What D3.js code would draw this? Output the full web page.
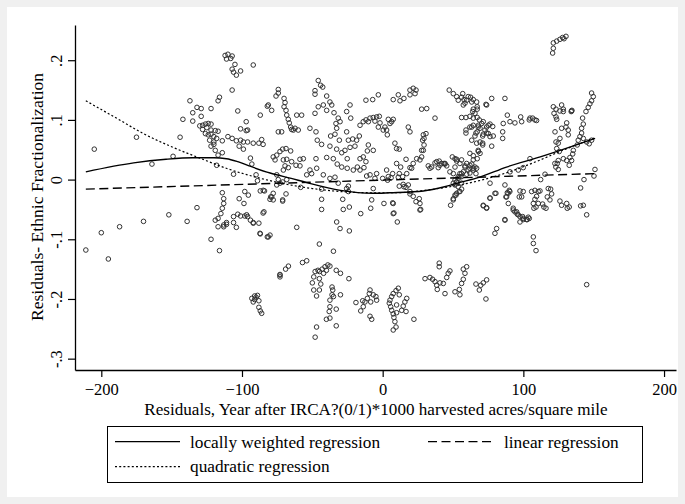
<!DOCTYPE html>
<html><head><meta charset="utf-8">
<script src="https://cdn.jsdelivr.net/npm/d3@7/dist/d3.min.js"></script>
<style>body{margin:0;background:#f0f0f0}svg{display:block}</style>
</head><body><svg id="c" width="685" height="504"></svg>
<script>
const xTicks=[-200,-100,0,100,200];
const yTicks=[-0.3,-0.2,-0.1,0,0.1,0.2];
const yTickLabels=["-.3","-.2","-.1","0",".1",".2"];
const xTitle="Residuals, Year after IRCA?(0/1)*1000 harvested acres/square mile";
const yTitle="Residuals- Ethnic Fractionalization";
const legendLabels=["locally weighted regression","linear regression","quadratic regression"];
const points=[
[-211,-0.118],[-195,-0.133],[-205,0.051],[-200,-0.089],[-187,-0.079],[-175,0.071],[-170,-0.070],[-164,0.026],[-152,-0.059],[-149,0.039],[-144,0.071],[-142,0.101],[-139,-0.070],[-137,0.132],[-132,-0.047],
[-112,0.208],[-110,0.210],[-107,0.207],[-111,0.202],[-108,0.203],[-105,0.193],[-107,0.185],[-106,0.180],[-101,0.182],[-104,0.175],[-92,0.192],[-107,0.150],[-116,0.138],[-117,0.132],[-132,0.121],[-129,0.119],[-135,0.112],[-129,0.106],[-135,0.098],[-122,0.119],[-103,0.115],[-97,0.097],[-101,0.085],[-96,0.083],[-87,0.108],[-82,0.123],
[-130,0.090],[-128,0.091],[-126,0.093],[-124,0.094],[-122,0.093],[-128,0.084],[-125,0.087],[-122,0.083],[-119,0.082],[-117,0.081],[-126,0.077],[-124,0.075],[-122,0.076],[-120,0.072],[-123,0.066],[-120,0.063],[-122,0.056],[-120,0.059],[-118,0.069],[-119,0.049],[-117,0.041],[-118,0.024],
[-114,0.065],[-110,0.072],[-107,0.069],[-104,0.065],[-101,0.066],[-99,0.063],[-96,0.063],[-92,0.061],[-88,0.061],[-85,0.059],[-86,0.067],[-102,0.056],[-99,0.051],[-94,0.036],[-93,0.026],[-90,0.008],[-89,-0.002],[-87,-0.019],[-106,0.009],[-114,0.045],[-97,0.082],
[-114,-0.022],[-113,-0.032],[-113,-0.040],[-114,-0.048],[-115,-0.057],[-117,-0.065],[-119,-0.068],[-117,-0.079],[-113,-0.076],[-111,-0.072],[-122,-0.100],[-116,-0.119],
[-106,-0.062],[-103,-0.058],[-101,-0.061],[-98,-0.061],[-96,-0.062],[-94,-0.068],[-92,-0.072],[-88,-0.073],[-106,-0.072],[-104,-0.080],[-87,-0.091],[-82,-0.096],[-85,-0.056],[-102,-0.032],[-98,-0.020],[-84,-0.019],[-113,-0.079],[-111,-0.075],
[-73,-0.160],[-69,-0.150],[-67,-0.145],
[-93,-0.199],[-91,-0.195],[-89,-0.194],[-92,-0.205],[-90,-0.197],[-88,-0.214],[-87,-0.220],[-86,-0.224],[-91,-0.201],[-88,-0.203],
[-45,-0.108],[-35,-0.120],[-57,-0.139],[-54,-0.136],[-73,-0.159],[-73,-0.163],
[-48,-0.154],[-46,-0.152],[-43,-0.150],[-41,-0.146],[-39,-0.143],[-37.5,-0.145],[-40,-0.152],[-42,-0.157],[-45,-0.154],[-49,-0.163],[-50,-0.173],[-45,-0.166],[-44,-0.175],[-45,-0.185],[-49,-0.185],[-47,-0.195],[-37.5,-0.202],[-36,-0.193],[-35,-0.196],[-30,-0.193],[-33,-0.152],[-30,-0.157],[-24,-0.166],[-36,-0.180],[-35.5,-0.185],[-37.5,-0.213],[-38,-0.221],[-33,-0.217],[-37.5,-0.232],[-40,-0.234],[-33,-0.245],[-47,-0.247],[-48,-0.264],
[-19,-0.206],[-15.6,-0.220],[-13.8,-0.213],[-12.6,-0.205],[-10.9,-0.199],[-9.5,-0.191],[-9,-0.185],[-6.7,-0.193],[-4.8,-0.196],[-4.3,-0.202],[-8.5,-0.205],[-9,-0.229],[-7.8,-0.234],[-14.2,-0.203],
[11.1,-0.182],[9.5,-0.186],[7.5,-0.191],[6.4,-0.196],[5.2,-0.202],[4.7,-0.207],[5.7,-0.213],[6.4,-0.219],[7.5,-0.225],[8,-0.231],[8.7,-0.238],[9.5,-0.247],[7.5,-0.252],[9.9,-0.223],[13.5,-0.219],[14.6,-0.212],[15.8,-0.205],[17.1,-0.199],[16.6,-0.221],[22.2,-0.234],[11.8,-0.193],[9.9,-0.210],
[40.2,-0.140],[40.2,-0.146],[30.1,-0.166],[33.6,-0.164],[35.5,-0.167],[37.2,-0.171],[38.4,-0.177],[38.8,-0.184],[40.7,-0.173],[43.1,-0.174],[45.5,-0.164],[46.6,-0.157],[47.8,-0.153],[44.3,-0.191],[51.4,-0.188],[54.5,-0.184],[54.9,-0.193],[56.1,-0.174],[57.3,-0.167],[58.5,-0.157],[59.7,-0.146],[57.3,-0.150],[66.3,-0.175],[68.7,-0.185],[69.7,-0.177],[71.5,-0.173],[73.9,-0.168],[73.4,-0.200],
[-45.8,0.166],[-44.1,0.158],[-42.6,0.155],[-48.1,0.149],[-48.1,0.143],[-39.8,0.140],[-37.5,0.130],[-36.2,0.125],[-42.2,0.125],[-45.8,0.122],[-48.1,0.111],[-39.8,0.116],[-34.6,0.112],[-31.6,0.103],[-30.3,0.097],[-33.2,0.094],[-32.7,0.086],[-33.9,0.076],[-37,0.073],[-25.6,0.080],[-24.4,0.066],[-25.6,0.114],[-23.2,0.125],[-22.7,0.103],[-51.7,0.086],[-47.4,0.080],[-46.5,0.066],[-43.4,0.059],[-37.5,0.056],[-32.7,0.051],[-29.1,0.045],[-26.8,0.049],[-21.3,0.068],[-18.5,0.066],[-30.8,0.066],[-23.2,0.054],[-19.7,0.056],[-16.6,0.073],[-16.1,0.091],[-13.8,0.097],[-11.9,0.100],[-9,0.103],[-6.7,0.104],[-4.3,0.105],[-2.4,0.106],[-10.2,0.097],[-5.5,0.098],[-1.9,0.095],[-3.1,0.088],[0.4,0.083],[1.6,0.088],[4,0.101],[5.2,0.094],[3.3,0.075],[8.7,0.061],[9.9,0.052],[-11.9,0.133],[-7.1,0.134],[-3.1,0.142],[7.5,0.134],
[-10.2,0.058],[-6.7,0.049],[-10.9,0.048],[-13.8,0.038],[-16.1,0.035],[-11.9,0.030],[-18,0.021],[-20.9,0.016],[-25.2,0.019],[-29.1,0.021],[-32.3,0.026],[-25.2,0.035],[-39.8,0.037],[-35.1,0.035],[-47.4,0.035],[-56.4,0.035],[-58.8,0.034],[-46.9,0.019],[-51.7,0.016],[-50.5,0.010],[-42.2,0.008],[-37.5,0.002],[-33.9,0.004],[-31.6,-0.006],[-24.4,-0.011],[-24.4,-0.020],[-58.3,-0.013],[-43.4,-0.033],[-43.4,-0.050],[-28.4,-0.033],[-23.7,-0.046],[-28,-0.050],[-15.6,-0.057],[-32.7,-0.071],[-30.3,-0.082],[-23.7,-0.086],[-61.1,-0.080],
[-74.2,0.151],[-74.2,0.145],[-75.8,0.140],[-70.1,0.136],[-69.4,0.129],[-70.1,0.122],[-68.7,0.116],[-68.2,0.108],[-67.1,0.101],[-66.4,0.095],[-65.4,0.088],[-64.7,0.084],[-63.5,0.083],[-62.3,0.086],[-60,0.083],[-61.1,0.108],[-57.6,0.108],[-81.3,0.125],[-78.9,0.116],[-74.2,0.080],[-71.8,0.080],
[-77.8,0.038],[-75.3,0.041],[-73,0.047],[-71.1,0.051],[-68.7,0.052],[-65.4,0.048],[-76.5,0.033],[-70.6,0.033],[-68.2,0.034],[-64.7,0.030],[-61.6,0.024],[-58.8,0.023],[-69.4,0.023],[-67.1,0.020],[-70.6,0.016],[-75.3,0.008],[-74.2,0.000],[-73,-0.006],[-71.1,-0.004],[-68.2,0.000],[-75.3,-0.009],[-84.9,-0.018],[-77.8,-0.023],[-78.9,-0.029],[-80.1,-0.033],[-71.1,-0.036],[-68.7,-0.024],[-84.4,-0.054],[-80.1,-0.093],[-43.4,-0.016],[-54,0.008],
[2.8,0.083],[6.4,0.097],[7.5,0.101],[11.8,0.051],[12.3,0.132],[11.1,0.142],[15.1,0.136],[19.4,0.150],[21.7,0.153],[23.7,0.150],[23,0.144],[27.7,0.118],[31.3,0.119],[37.2,0.103],[18.2,0.088],[19.4,0.080],[28.4,0.066],[29.4,0.058],[28.9,0.049],[27.7,0.038],[26.5,0.033],[24.2,0.035],[21.7,0.027],[20.6,0.019],[17.1,0.010],[19.4,0.020],[16.6,0.034],[9.9,0.027],[12.8,0.021],[2.8,0.016],[4,0.005],[7.1,0.010],[11.1,0.004],[-5.5,0.002],[-4.3,0.010],[-9,0.008],[-11.4,0.006],[-16.1,0.016],[-13.3,0.020],[-6.7,-0.015],[-7.8,-0.034],[-8.5,-0.048],[0.9,-0.040],[7.1,-0.039],[8,-0.056],[10.4,-0.071],[16.6,-0.013],[19.4,-0.020],[21.7,-0.028],[23.7,-0.037],[26.5,-0.040],[27,-0.050],[11.8,-0.011],[14.6,-0.008],[0,0.002],[3.5,-0.001],[6,0.003],[-25.6,-0.015],
[47.3,0.150],[50.2,0.144],[52.6,0.139],[56.9,0.144],[57.8,0.134],[60.8,0.139],[63.3,0.130],[64.4,0.134],[66.8,0.130],[67.2,0.122],[64,0.114],[65.6,0.111],[62,0.106],[56.1,0.104],[59.2,0.083],[62,0.088],[64.4,0.091],[67.2,0.080],[65.6,0.073],[63.3,0.066],[66.8,0.061],[67.9,0.049],[62,0.044],[64.4,0.033],[67.2,0.035],[69.2,0.044],[52.6,0.034],[54.9,0.027],[51.4,0.021],[50.2,0.010],[58.5,0.023],[62,0.019],[64.4,0.016],[66.3,0.010],[54.9,0.005],[52.6,-0.004],[50.2,-0.006],[53.7,-0.012],[54.9,-0.020],[51.4,-0.026],[50.2,-0.034],[48.3,-0.043],[37.2,0.028],[40.2,0.031],[43.6,0.027],[45.5,0.023],[39.5,0.020],[33.6,0.019],
[-95.5,-0.026],[-98.6,-0.040],[-96.7,-0.059],[-92,-0.073],[-87.2,-0.090],[-81.3,-0.096],[-79.6,-0.029],[-77.8,-0.034],[-71.1,-0.034],
[19.4,0.142],[28.9,0.075],[30.8,0.077],[29.4,0.069],[27.7,0.049],[32.4,0.023],[34.8,0.021],[38.4,0.030],[41.9,0.027],[44.3,0.026],[11.8,0.010],[14.2,0.005],[18.2,-0.009],[15.1,-0.012],[19.4,-0.024],[26,-0.032],[26.5,-0.051],[7.5,-0.040],[7.5,-0.057],[58.5,0.128],[73.9,0.125],[77.5,0.136],[86.9,0.136],[67.2,0.118],[67.9,0.088],[70.4,0.094],[72.7,0.083],[75.1,0.091],[73.9,0.078],[76.3,0.072],[71.5,0.076],[69.2,0.063],[71.1,0.058],[85.3,0.080],[85.3,0.069],[85.7,0.094],[88.6,0.108],[90.5,0.097],[94,0.095],[98.1,0.105],[98.8,0.097],[56.1,0.033],[59.7,0.027],[56.1,0.010],[53.7,0.005],[51.4,-0.001],[56.1,-0.006],[52.6,-0.023],[50.2,-0.032],[66.8,0.019],[76.3,-0.006],[80.5,-0.023],[76.3,-0.031],[71.5,-0.044],[73.9,-0.047],[86.9,-0.009],[88.6,-0.022],[90,-0.018],[88.1,-0.029],[89.3,-0.040],[92.8,-0.048],[95.2,-0.054],[96.4,-0.059],[99.5,-0.062],[102.3,-0.067],[86.9,-0.067],[81,-0.082],[79.8,-0.090],[97.1,-0.029],[90.5,0.013],[96.4,0.016],[99.9,0.020],
[120.8,0.212],[121.3,0.220],[121.3,0.229],[123.7,0.232],[126,0.235],[127.9,0.238],[130.3,0.240],[128.9,0.236],
[53.7,0.133],[56.1,0.138],[59.7,0.133],[62.5,0.138],[57.3,0.125],[64.4,0.118],[73.4,0.126],
[59.2,0.104],[64.4,0.103],[67.2,0.104],[68.7,0.100],[71.5,0.097],[73.9,0.088],[76.3,0.093],[78.2,0.089],[75.1,0.077],[78.6,0.073],[71.1,0.073],[66.3,0.078],[59.2,0.078],[63.3,0.088],[69.2,0.086],[68,0.091],[77.5,0.056],[104.2,0.100],[106.6,0.103],[109.4,0.099],[71.1,0.061],[68,0.047],[64.4,0.040],[63.3,0.026],
[49.5,0.038],[51.4,0.035],[52.6,0.031],[58.5,0.021],[62,0.024],[60.8,0.016],[57.3,0.013],[59.7,0.009],[62,0.011],[64.4,0.019],[65.6,0.021],[54.9,0.010],[53.7,0.002],[52.6,-0.004],[51.4,-0.009],[56.1,0.005],[44.3,0.027],[40.7,0.024],[47.8,0.013],[56.1,-0.016],[54.4,-0.020],[52.1,-0.026],
[71.5,-0.043],[73.9,-0.048],[76.3,-0.031],[79.8,-0.023],[87.6,-0.029],[89.2,-0.023],[90.4,-0.020],[92.8,-0.051],[94,-0.054],[95.7,-0.058],[97.6,-0.071],[99.9,-0.067],[102.7,-0.067],[104.2,-0.065],[86.9,-0.068],
[148.5,0.145],[149.7,0.139],[148.5,0.132],[147.3,0.127],[146.1,0.121],[144.5,0.114],[142.1,0.103],[142.6,0.093],[141.4,0.086],[141.4,0.078],[140.2,0.072],[139,0.066],[142.6,0.069],[145,0.063],[146.8,0.060],[148.5,0.066],[138.3,0.058],[135.5,0.049],[135.1,0.043],[133.1,0.037],[134.3,0.032],[132.6,0.024],[130.8,0.032],[128.4,0.035],[124.8,0.032],[124.1,0.027],[123.1,0.021],[124.8,0.017],[122.4,0.027],
[121.3,0.122],[123.2,0.118],[121.8,0.111],[123.2,0.105],[123.7,0.101],[126,0.115],[127.2,0.125],[128.4,0.118],[128.4,0.114],[134.3,0.115],[134.5,0.116],[134,0.114],
[130.8,0.095],[130.3,0.088],[131.9,0.083],[131.9,0.075],[122.5,0.080],[127.2,0.086],[123.2,0.063],[124.8,0.061],[126,0.069],[123.7,0.052],[125.5,0.047],
[104.7,0.035],[104.7,0.103],[108.2,0.100],[115.4,0.009],[112.3,0.000],[150.9,0.017],[150.2,0.006],[143.1,0.000],[140.7,-0.014],[145,-0.059],[142.6,-0.043],[140.7,-0.044],
[97.6,-0.019],[99.9,-0.020],[98.8,-0.029],[105.9,-0.020],[108.2,-0.018],[110.6,-0.020],[111.8,-0.019],[109.4,-0.028],[108.2,-0.033],[107.1,-0.040],[109,-0.046],[107.5,-0.048],[110.6,-0.040],[113.7,-0.041],[114.6,-0.046],[116.1,-0.048],[117.7,-0.015],[119.4,-0.016],[120.1,-0.024],[118.9,-0.034],[117,-0.029],[126,-0.036],[127.2,-0.043],[130.8,-0.040],[131.2,-0.048],[132.6,-0.046],
[97.6,-0.062],[99.9,-0.065],[103.5,-0.063],[107.1,-0.096],[107.1,-0.107],[109,-0.119],[145,-0.176]
];
const lowessFit=[[-211,0.013],[-177,0.028],[-154,0.034],[-135,0.0365],[-120,0.0365],[-111,0.035],[-103,0.030],[-95,0.023],[-80,0.011],[-65,0.002],[-54,-0.005],[-30,-0.018],[-7,-0.023],[5,-0.022],[29,-0.019],[44,-0.012],[53,-0.006],[69,0.004],[88,0.021],[112,0.038],[135,0.056],[151,0.069]];
const linearFit=[[-211,-0.016],[151,0.010]];
const quadFit=[[-211,0.132],[-190,0.104],[-170,0.077],[-150,0.055],[-130,0.036],[-110,0.018],[-90,0.004],[-70,-0.007],[-50,-0.015],[-30,-0.020],[-10,-0.022],[10,-0.022],[30,-0.018],[50,-0.011],[70,-0.001],[90,0.013],[110,0.031],[130,0.051],[151,0.070]];

const FONT='"Liberation Serif","Times New Roman",serif';
const svg=d3.select("#c");
svg.append("rect").attr("x",7).attr("y",7).attr("width",671).attr("height",490).attr("fill","#fff");

const x=d3.scaleLinear().domain([-218.7,208.5]).range([75,676]);
const y=d3.scaleLinear().domain([-0.319,0.259]).range([370,25]);

// points
svg.append("g").selectAll("circle").data(points).join("circle")
  .attr("cx",d=>x(d[0])).attr("cy",d=>y(d[1])).attr("r",2.3)
  .attr("fill","none").attr("stroke","#333").attr("stroke-width",1);

const line=d3.line().x(d=>x(d[0])).y(d=>y(d[1]));
const smooth=d3.line().x(d=>x(d[0])).y(d=>y(d[1])).curve(d3.curveMonotoneX);
svg.append("path").attr("d",smooth(lowessFit)).attr("fill","none").attr("stroke","#000").attr("stroke-width",1.4);
svg.append("path").attr("d",line(linearFit)).attr("fill","none").attr("stroke","#000").attr("stroke-width",1.4).attr("stroke-dasharray","9,4.5");
svg.append("path").attr("d",smooth(quadFit)).attr("fill","none").attr("stroke","#000").attr("stroke-width",1.2).attr("stroke-dasharray","2,2.2");

// axes
const gx=svg.append("g").attr("transform","translate(0,370)")
  .call(d3.axisBottom(x).tickValues(xTicks).tickSize(7).tickSizeOuter(0).tickFormat(d3.format("d")));
gx.selectAll("text").attr("y",25).attr("dy",0).attr("font-family",FONT).attr("font-size",16.5).attr("fill","#000");
const gy=svg.append("g").attr("transform","translate(75,0)")
  .call(d3.axisLeft(y).tickValues(yTicks).tickSize(7).tickSizeOuter(0).tickFormat((d,i)=>yTickLabels[i]));
gy.selectAll("text").attr("x",0).attr("dy",0).attr("text-anchor","middle")
  .attr("transform","translate(-13,0) rotate(-90)").attr("font-family",FONT).attr("font-size",16.5).attr("fill","#000");
svg.selectAll(".domain").attr("stroke","#000").attr("stroke-width",1.3);
svg.selectAll(".tick line").attr("stroke","#000").attr("stroke-width",1.2);

svg.append("text").attr("x",376).attr("y",414.5).attr("text-anchor","middle")
  .attr("font-family",FONT).attr("font-size",17.1).text(xTitle);
svg.append("text").attr("transform","translate(43,197) rotate(-90)").attr("text-anchor","middle")
  .attr("font-family",FONT).attr("font-size",17.6).text(yTitle);

// legend
const lg=svg.append("g");
lg.append("rect").attr("x",107.5).attr("y",426.5).attr("width",535).attr("height",56).attr("fill","#fff").attr("stroke","#000").attr("stroke-width",1);
const leg=[
 {lab:legendLabels[0],x1:115,x2:180,tx:190,ly:441.7,ty:447.5,dash:null},
 {lab:legendLabels[1],x1:428,x2:493,tx:504,ly:441.7,ty:447.5,dash:"9,4.5"},
 {lab:legendLabels[2],x1:115,x2:180,tx:190,ly:466.7,ty:471.5,dash:"2,2.2"}
];
leg.forEach(e=>{
  lg.append("line").attr("x1",e.x1).attr("x2",e.x2).attr("y1",e.ly).attr("y2",e.ly)
    .attr("stroke","#000").attr("stroke-width",1.3).attr("stroke-dasharray",e.dash);
  lg.append("text").attr("x",e.tx).attr("y",e.ty).attr("font-family",FONT).attr("font-size",17.3).text(e.lab);
});
</script></body></html>
